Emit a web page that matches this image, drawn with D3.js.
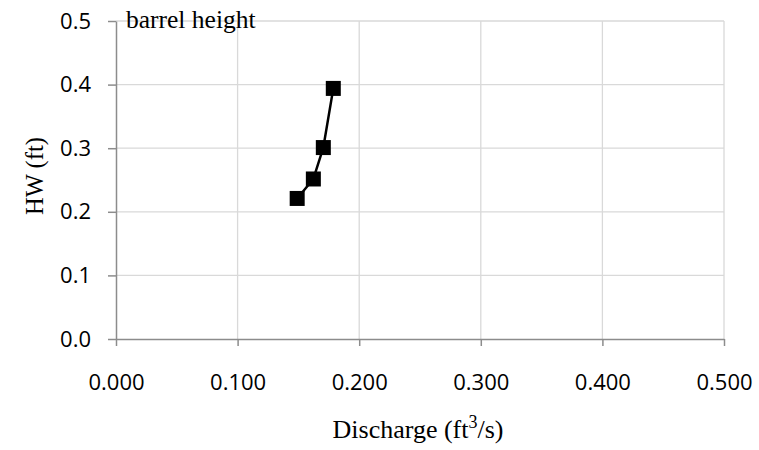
<!DOCTYPE html>
<html><head><meta charset="utf-8">
<script src="https://cdn.jsdelivr.net/npm/d3@7"></script>
<style>body{margin:0;background:#fff}</style>
</head><body>
<svg id="c" width="759" height="450"></svg>
<script>
const discharge = [0.149, 0.1623, 0.1705, 0.1787];
const headwater = [0.221, 0.2516, 0.301, 0.394];
const xTicks = [0, 0.1, 0.2, 0.3, 0.4, 0.5];
const yTicks = [0, 0.1, 0.2, 0.3, 0.4, 0.5];

const svg = d3.select('#c');
const x = d3.scaleLinear().domain([0, 0.5]).range([116, 724]);
const y = d3.scaleLinear().domain([0, 0.5]).range([339, 21]);

// gridlines
svg.append('g').selectAll('line').data(yTicks.slice(1)).join('line')
  .attr('x1', 116).attr('x2', 724).attr('y1', d => y(d)).attr('y2', d => y(d))
  .attr('stroke', '#d9d9d9').attr('stroke-width', 1.3);
svg.append('g').selectAll('line').data(xTicks.slice(1)).join('line')
  .attr('y1', 21).attr('y2', 339).attr('x1', d => x(d)).attr('x2', d => x(d))
  .attr('stroke', '#d9d9d9').attr('stroke-width', 1.3);

// axes
const xAxis = svg.append('g').attr('transform', 'translate(0,339)')
  .call(d3.axisBottom(x).tickValues(xTicks).tickFormat(d3.format('.3f')).tickSize(7).tickPadding(28).tickSizeOuter(0));
const yAxis = svg.append('g').attr('transform', 'translate(116,0)')
  .call(d3.axisLeft(y).tickValues(yTicks).tickFormat(d3.format('.1f')).tickSize(8).tickPadding(17).tickSizeOuter(0));
[xAxis, yAxis].forEach(a => {
  a.selectAll('path,line').attr('stroke', '#8c8c8c').attr('stroke-width', 1.5);
  a.selectAll('text').attr('fill', '#000').style('font-family', '"Open Sans", sans-serif').style('font-size', '22px');
});

// line
const pts = discharge.map((d, i) => [d, headwater[i]]);
svg.append('path').datum(pts)
  .attr('d', d3.line().x(d => x(d[0])).y(d => y(d[1])))
  .attr('fill', 'none').attr('stroke', '#000').attr('stroke-width', 2.5);
const s = 15;
svg.append('g').selectAll('rect').data(pts).join('rect')
  .attr('x', d => x(d[0]) - s / 2).attr('y', d => y(d[1]) - s / 2)
  .attr('width', s).attr('height', s).attr('fill', '#000');

// texts
const serif = '"Liberation Serif", "Times New Roman", serif';
svg.append('text').attr('x', 126).attr('y', 28).text('barrel height')
  .style('font-family', serif).style('font-size', '25.5px');
svg.append('text').attr('transform', 'translate(43,176) rotate(-90)').attr('text-anchor', 'middle')
  .text('HW (ft)').style('font-family', serif).style('font-size', '24.5px');
const xt = svg.append('text').attr('x', 418).attr('y', 438).attr('text-anchor', 'middle')
  .style('font-family', serif).style('font-size', '26px');
xt.append('tspan').text('Discharge (ft');
xt.append('tspan').attr('dy', -10).style('font-size', '18px').text('3');
xt.append('tspan').attr('dy', 10).text('/s)');
</script>
</body></html>
